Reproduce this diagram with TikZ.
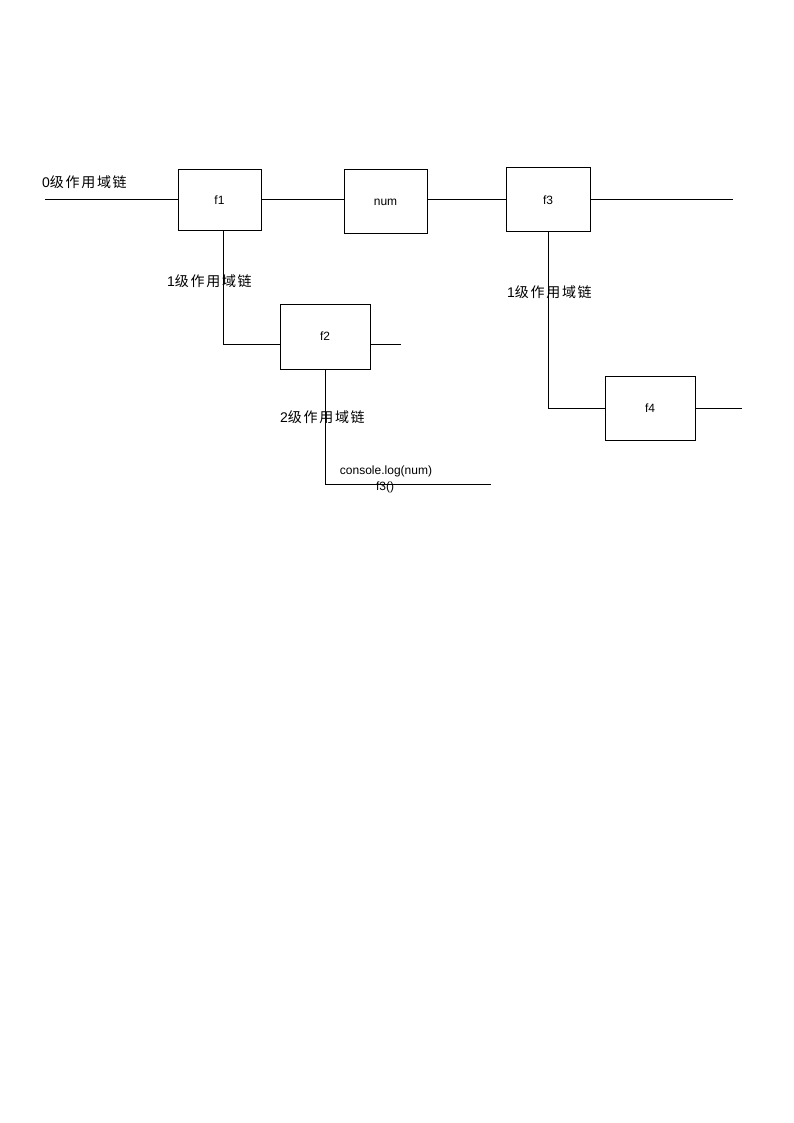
\documentclass[tikz,border=0pt]{standalone}
\usepackage{fontspec}
\setmainfont{Liberation Sans}
\newfontfamily\cjk{Noto Sans CJK SC}
\begin{document}
\begin{tikzpicture}[x=1pt,y=-1pt,
  fbox/.style={draw=black,line width=1pt,minimum width=#1,inner sep=0pt,font=\fontsize{12}{14}\selectfont},
  conn/.style={draw=black,line width=1pt},
  lvl/.style={anchor=west,inner sep=0pt,font=\fontsize{14}{16}\selectfont},
  code/.style={inner sep=0pt,font=\fontsize{12}{14}\selectfont}]
\useasboundingbox (0,0) rectangle (794,1123);
\fill[white] (0,0) rectangle (794,1123);
% boxes
\node[fbox=83pt,minimum height=61pt] (f1) at (219.5,200.5) {f1};
\node[fbox=83pt,minimum height=64pt] (num) at (385.5,202) {num};
\node[fbox=84pt,minimum height=64pt] (f3) at (548,200) {f3};
\node[fbox=90pt,minimum height=65pt] (f2) at (325,336.5) {f2};
\node[fbox=90pt,minimum height=64pt] (f4) at (650,408) {f4};
% free ends
\coordinate (s0) at (45,200);
\coordinate (e3) at (733,200);
\coordinate (e2) at (401,344);
\coordinate (e4) at (742,408);
\coordinate (e5) at (491,484);
% connectors
\draw[conn] (s0) -- (s0 -| f1.west);
\draw[conn] (f1.east |- 0,200) -- (num.west |- 0,200);
\draw[conn] (num.east |- 0,200) -- (f3.west |- 0,200);
\draw[conn] (f3.east |- 0,200) -- (e3);
\draw[conn] (223,231) -- (223,344) -- (f2.west |- 0,344);
\draw[conn] (f2.east |- 0,344) -- (e2);
\draw[conn] (f2.south) -- (325,484) -- (e5);
\draw[conn] (f3.south) -- (548,408) -- (f4.west |- 0,408);
\draw[conn] (f4.east |- 0,408) -- (e4);
% labels
\node[lvl] (l0) at (42,182) {0{\cjk\addfontfeature{LetterSpace=12}级作用域链}};
\node[lvl] (l1) at (167,281) {1{\cjk\addfontfeature{LetterSpace=12}级作用域链}};
\node[lvl] (l2) at (280,417) {2{\cjk\addfontfeature{LetterSpace=12}级作用域链}};
\node[lvl] (l3) at (507,292) {1{\cjk\addfontfeature{LetterSpace=12}级作用域链}};
\node[code] (c1) at (386,471) {console.log(num)};
\node[code] (c2) at (385,487) {f3()};
\end{tikzpicture}
\end{document}
